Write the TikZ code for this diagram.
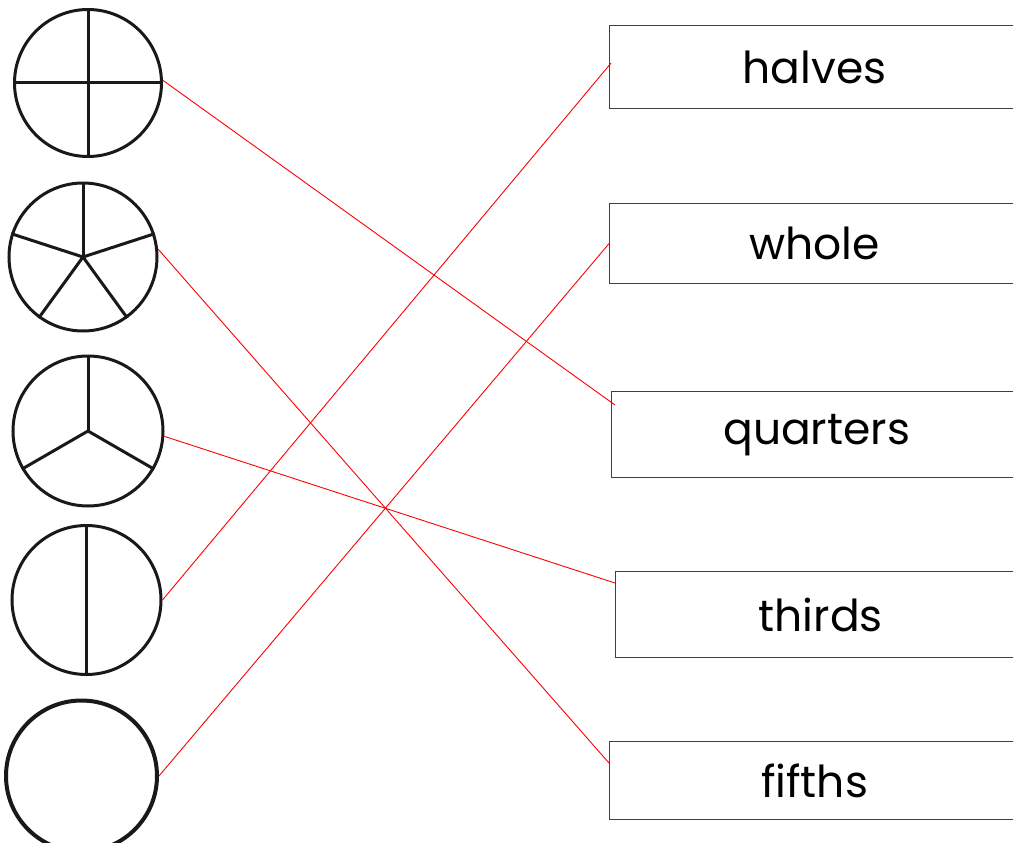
\documentclass[tikz,border=0pt]{standalone}
\usepackage{fontspec}
\setmainfont{Poppins}
\usetikzlibrary{calc}
\tikzset{
	pie_node/.style = {
		circle,
		draw=black!90,
		line width=3pt,
		inner sep=0pt,
		minimum size=#1
	},
	pie_node/.default = 147pt,
	spoke/.style = {
		draw=black!90,
		line width=3pt
	},
	name_box/.style = {
		rectangle,
		draw=black!75,
		line width=1.3pt,
		anchor=north west,
		inner sep=0pt,
		minimum width=410pt,
		font=\fontsize{44}{52}\selectfont
	},
	match_line/.style = {
		red,
		line width=0.9pt
	},
}

\begin{document}
\begin{tikzpicture}[x=1pt,y=-1pt]
\useasboundingbox (0,0) rectangle (1013,843);
\clip (0,0) rectangle (1013,843);
% pies
\node [pie_node=147pt] (quarter_pie) at (88,83) {};
\node [pie_node=148pt] (fifth_pie) at (83,257) {};
\node [pie_node=150pt] (third_pie) at (88,431) {};
\node [pie_node=149pt] (half_pie) at (86.5,600) {};
\node [pie_node=151pt, line width=4pt] (whole_pie) at (81.5,776) {};
\draw [spoke] (quarter_pie.north) -- (quarter_pie.south);
\draw [spoke] (quarter_pie.west) -- (quarter_pie.east);
\foreach \a in {90,18,-54,-126,162}
	\draw [spoke] (fifth_pie.center) -- (fifth_pie.\a);
\foreach \a in {90,-30,210}
	\draw [spoke] (third_pie.center) -- (third_pie.\a);
\draw [spoke] (half_pie.north) -- (half_pie.south);
% names
\node [name_box, minimum height=83pt] (halves) at (609,25) {halves};
\node [name_box, minimum height=80pt] (whole) at (609,203) {whole};
\node [name_box, minimum height=86pt] (quarters) at (611,391) {quarters};
\node [name_box, minimum height=86pt] (thirds) at (615,571) {thirds};
\node [name_box, minimum height=78pt] (fifths) at (609,741) {fifths};
% matches
\draw [match_line] (quarter_pie.2) -- ([shift={(4,14)}]quarters.north west);
\draw [match_line] (fifth_pie.6) -- ([shift={(0,22)}]fifths.north west);
\draw [match_line] (third_pie.-4) -- ([shift={(0,12)}]thirds.north west);
\draw [match_line] (half_pie.east) -- ([shift={(2,-4)}]halves.west);
\draw [match_line] (whole_pie.east) -- (whole.west);
\end{tikzpicture}
\end{document}
